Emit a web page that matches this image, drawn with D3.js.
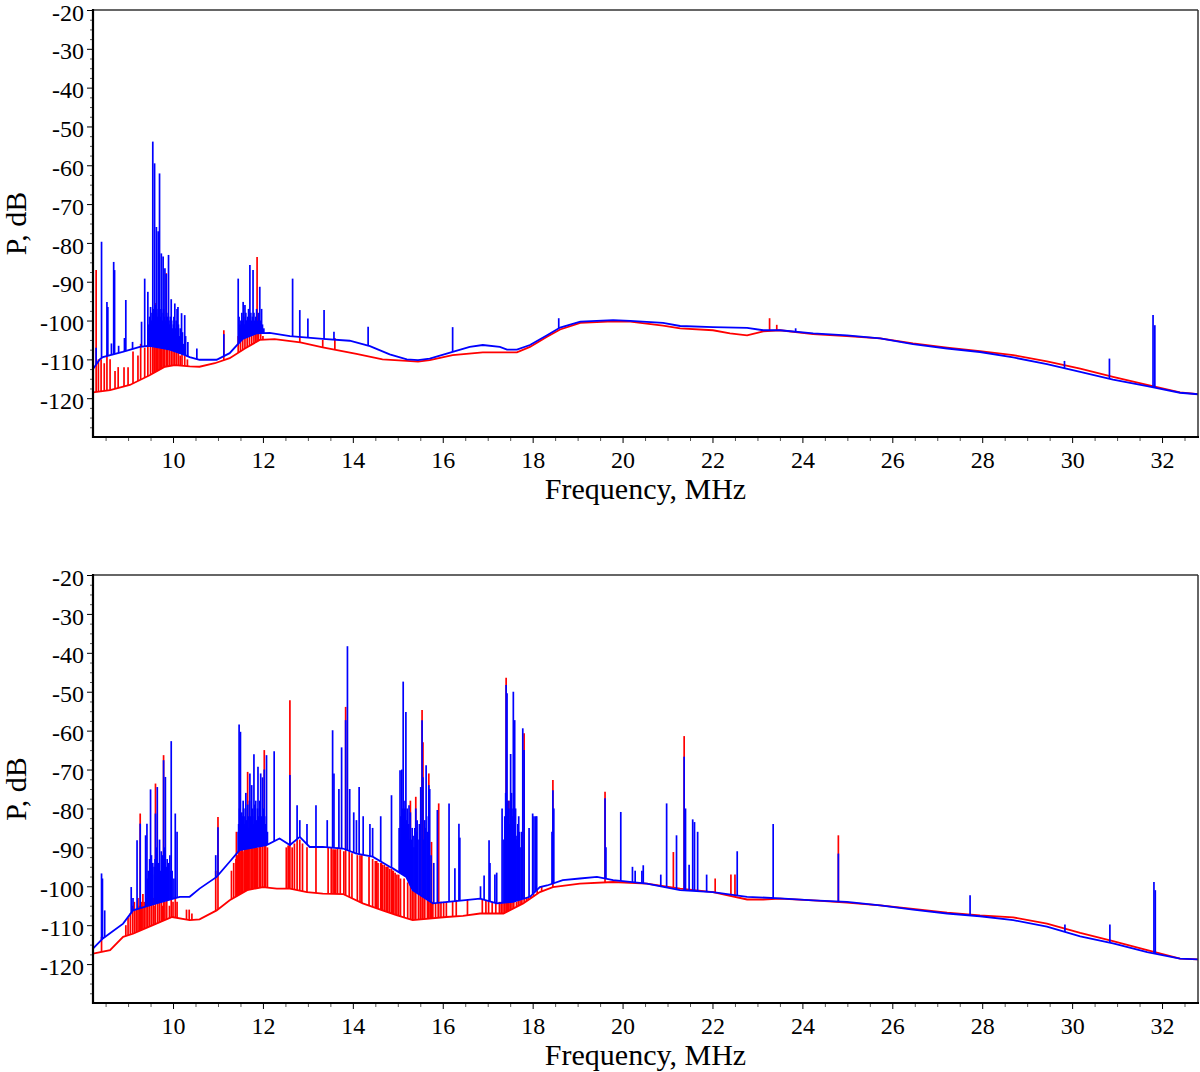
<!DOCTYPE html>
<html>
<head>
<meta charset="utf-8">
<script src="https://d3js.org/d3.v7.min.js"></script>
<style>
  body { margin: 0; background: #fff; }
  svg { display: block; }
</style>
</head>
<body>
<script>
"use strict";

/* ---------- data: [frequency MHz, power dB] ---------- */

// upper chart
var topBlueBase = [[8.22,-112.5],[8.37,-110.0],[8.44,-109.4],[8.88,-108.1],[9.26,-106.8],[9.48,-106.5],[9.7,-107],[9.93,-107.5],[10.2,-108.6],[10.37,-109.4],[10.59,-110.1],[10.97,-110.1],[11.26,-108.4],[11.55,-104.7],[11.86,-103.3],[12.15,-103.2],[12.6,-104.0],[13.33,-104.7],[13.93,-105.2],[14.38,-106.6],[14.82,-108.7],[15.2,-110.0],[15.45,-110.2],[15.71,-109.8],[16.22,-108.1],[16.6,-106.8],[16.89,-106.3],[17.27,-106.8],[17.43,-107.5],[17.65,-107.5],[17.94,-106.3],[18.32,-103.8],[18.61,-101.8],[19.06,-100.3],[19.79,-99.9],[20.17,-100.1],[20.9,-100.6],[21.28,-101.4],[22.01,-101.7],[22.77,-101.9],[23.13,-102.5],[23.5,-102.5],[24.24,-103.3],[24.99,-103.8],[25.73,-104.6],[26.46,-106.1],[27.22,-107.2],[27.95,-108.1],[28.69,-109.5],[29.44,-111.2],[30.18,-113.2],[30.91,-115.2],[31.67,-116.9],[32.4,-118.6],[32.82,-119.0]];

var topRedBase = [[8.22,-118.5],[8.6,-117.9],[9.04,-116.6],[9.48,-114.1],[9.82,-111.9],[10.04,-111.5],[10.37,-111.8],[10.59,-111.9],[10.93,-111.0],[11.26,-109.7],[11.6,-107.2],[11.93,-105.0],[12.26,-104.8],[12.83,-105.6],[13.33,-106.9],[14.08,-108.6],[14.66,-110.0],[15.2,-110.4],[15.45,-110.6],[15.71,-110.2],[16.22,-108.9],[16.89,-108.2],[17.65,-108.2],[17.94,-106.8],[18.32,-104.2],[18.61,-102.3],[19.06,-100.6],[19.79,-100.2],[20.17,-100.3],[20.9,-101.3],[21.28,-102.0],[22.01,-102.5],[22.39,-103.3],[22.77,-103.8],[23.13,-102.8],[23.5,-102.5],[24.24,-103.5],[24.99,-104.0],[25.73,-104.6],[26.46,-105.9],[27.22,-107.0],[27.95,-107.9],[28.69,-108.9],[29.44,-110.5],[30.18,-112.4],[30.91,-114.5],[31.67,-116.6],[32.4,-118.5],[32.82,-119.0]];

var topBlueSpikes = [[8.29,-107],[8.41,-79.7],[8.53,-95.2],[8.55,-96.5],[8.63,-105.9],[8.68,-84.9],[8.70,-87],[8.79,-106.5],[8.92,-104.5],[8.95,-94.7],[9.10,-105.5],[9.30,-100.3],[9.37,-89.2],[9.44,-92.6],[9.50,-96.5],[9.55,-53.9],[9.59,-59.5],[9.63,-75.9],[9.67,-77.0],[9.70,-62.1],[9.74,-82.7],[9.78,-83.5],[9.82,-86.5],[9.85,-88.0],[9.90,-83.1],[9.96,-94.5],[10.04,-95.6],[10.09,-97],[10.11,-96.5],[10.19,-98.1],[10.26,-98.6],[10.33,-105.5],[10.53,-107.2],[11.13,-103.5],[11.45,-89.2],[11.56,-95.2],[11.60,-96],[11.71,-85.7],[11.78,-87],[11.86,-97],[11.93,-91.3],[11.97,-97],[12.66,-89.2],[12.82,-97.3],[13.0,-99.5],[13.36,-97.3],[13.58,-102.9],[14.34,-101.6],[16.22,-101.7],[18.58,-99.4],[23.85,-102.0],[29.83,-110.4],[30.83,-109.8],[31.8,-98.6],[31.84,-101.2]];

var topBlueFuzz = [[9.46,-101],[9.47,-103],[9.48,-99],[9.49,-103],[9.50,-100],[9.51,-98],[9.52,-101],[9.53,-100],[9.54,-102],[9.56,-97],[9.57,-99],[9.58,-101],[9.60,-98],[9.61,-96],[9.62,-100],[9.64,-97],[9.65,-99],[9.66,-102],[9.68,-98],[9.69,-100],[9.71,-97],[9.72,-101],[9.73,-99],[9.75,-98],[9.76,-102],[9.77,-100],[9.79,-97],[9.80,-101],[9.81,-99],[9.83,-100],[9.84,-103],[9.86,-98],[9.87,-101],[9.88,-99],[9.89,-102],[9.91,-100],[9.92,-102],[9.93,-101],[9.94,-99],[9.95,-101],[9.97,-100],[9.98,-102],[9.99,-103],[10.01,-101],[10.02,-99],[10.03,-103],[10.05,-102],[10.06,-104],[10.07,-100],[10.08,-103],[10.10,-102],[10.12,-101],[10.13,-105],[10.14,-104],[10.16,-102],[10.18,-105],[10.21,-103],[10.23,-106],[10.28,-104],
  [11.47,-99],[11.48,-102],[11.49,-101],[11.51,-100],[11.52,-102],[11.53,-98],[11.55,-100],[11.57,-99],[11.58,-101],[11.59,-101],[11.62,-98],[11.63,-100],[11.64,-100],[11.66,-99],[11.67,-101],[11.68,-97],[11.70,-100],[11.72,-99],[11.73,-98],[11.75,-100],[11.77,-99],[11.79,-101],[11.80,-98],[11.82,-100],[11.84,-99],[11.85,-101],[11.88,-100],[11.90,-98],[11.92,-100],[11.95,-100],[11.99,-101],[12.02,-102]];

var topRedSpikes = [[8.29,-87.0],[8.34,-110],[8.40,-110],[8.47,-111],[8.53,-109],[8.60,-110],[8.71,-113],[8.78,-112],[8.91,-112],[9.00,-112],[9.11,-108],[9.22,-109],[9.28,-106],[9.37,-107],[9.44,-103],[9.50,-104],[9.55,-101],[9.58,-104],[9.60,-95.5],[9.63,-100],[9.66,-103],[9.69,-99],[9.72,-104],[9.75,-102],[9.78,-105],[9.81,-101],[9.85,-87.8],[9.88,-104],[9.92,-106],[9.96,-103],[10.00,-107],[10.04,-105],[10.08,-108],[10.12,-106],[10.16,-109],[10.20,-107],[10.26,-109],[10.32,-110],[11.13,-102.5],[11.45,-104],[11.50,-103],[11.55,-104],[11.60,-103],[11.65,-102.8],[11.70,-103.5],[11.75,-102.5],[11.80,-103],[11.84,-102.5],[11.87,-83.6],[11.90,-103],[11.95,-103.5],[12.00,-104],[12.82,-104],[13.33,-105],[13.6,-104.5],[23.27,-99.4],[23.43,-101.1]];

// lower chart
var botBlueBase = [[8.22,-116.0],[8.44,-113.4],[8.89,-109.6],[9.11,-106.2],[9.63,-104.4],[10.15,-102.7],[10.37,-102.7],[10.59,-100.6],[10.97,-97.6],[11.26,-93.7],[11.48,-90.7],[12.08,-89.4],[12.37,-87.7],[12.6,-89.4],[12.82,-87.3],[13.04,-89.9],[13.33,-89.9],[13.78,-90.3],[14.08,-91.6],[14.44,-92.4],[14.82,-95],[14.89,-95.4],[15.19,-97.6],[15.33,-101],[15.78,-104.4],[16.45,-103.6],[16.83,-103.2],[17.2,-104.4],[17.56,-104],[17.94,-102.7],[18.16,-100.2],[18.32,-99.8],[18.67,-98.4],[19.05,-98],[19.43,-97.6],[19.79,-98.4],[20.54,-99.3],[21.28,-101],[22.01,-101.5],[22.77,-102.7],[23.5,-103.1],[24.24,-103.6],[24.99,-104.0],[25.73,-104.9],[26.46,-106],[27.22,-107],[27.95,-107.7],[28.69,-108.7],[29.44,-110.4],[30.18,-112.9],[30.91,-114.7],[31.67,-116.9],[32.4,-118.6],[32.82,-118.8]];

var botRedBase = [[8.22,-117.3],[8.6,-116.4],[8.89,-113],[9.11,-112.2],[9.63,-109.6],[9.98,-107.9],[10.37,-108.7],[10.59,-108.5],[10.97,-106.2],[11.26,-103.6],[11.65,-101.0],[12.0,-100.2],[12.31,-100.6],[12.6,-100.6],[12.98,-101.5],[13.33,-101.9],[13.78,-102],[14.22,-104.4],[14.66,-106.2],[14.97,-107.4],[15.33,-108.7],[16.08,-107.9],[16.45,-107.6],[16.83,-107.0],[17.35,-107.0],[17.79,-104.4],[18.16,-101.5],[18.45,-100.2],[19.05,-99.3],[19.79,-98.9],[20.54,-99.3],[21.28,-100.6],[22.01,-101.5],[22.77,-103.4],[23.13,-103.4],[23.5,-103.2],[24.24,-103.6],[24.99,-104.2],[25.73,-104.9],[26.46,-105.8],[27.22,-106.8],[27.95,-107.5],[28.69,-108.0],[29.44,-109.6],[30.18,-112.0],[30.91,-114.1],[31.67,-116.4],[32.4,-118.6],[32.82,-118.8]];

var botBlueSpikes = [[8.41,-96.7],[8.43,-98],[8.48,-106.2],[9.07,-100.2],[9.11,-103],[9.20,-88.2],[9.27,-83.9],[9.39,-86.9],[9.42,-83.9],[9.47,-99],[9.50,-75.1],[9.55,-94],[9.61,-81.3],[9.65,-74.5],[9.70,-88],[9.74,-91],[9.79,-67.6],[9.83,-71.9],[9.87,-93],[9.90,-94],[9.96,-62.7],[10.05,-81.3],[10.09,-86],[10.95,-92],[11.00,-84.8],[11.47,-58.4],[11.50,-60.3],[11.57,-80],[11.62,-76],[11.71,-71.0],[11.75,-74],[11.80,-66.1],[11.84,-78],[11.89,-69.3],[11.95,-71],[11.99,-72],[12.03,-70],[12.08,-66.3],[12.25,-65.3],[12.60,-71.4],[12.76,-79.2],[12.82,-83],[12.98,-84],[13.18,-79.2],[13.43,-83],[13.55,-59.9],[13.58,-71],[13.69,-75],[13.75,-64.3],[13.84,-57.3],[13.88,-38.3],[13.93,-75],[14.02,-81],[14.08,-83],[14.14,-74.5],[14.23,-82],[14.38,-84],[14.44,-85],[14.62,-82],[14.86,-76.6],[15.05,-70.2],[15.09,-70],[15.12,-47.4],[15.18,-55.2],[15.25,-79.2],[15.28,-81],[15.34,-87],[15.40,-80],[15.43,-83],[15.51,-74.5],[15.54,-57.3],[15.56,-72],[15.60,-83],[15.63,-68.9],[15.69,-74],[15.71,-75],[15.88,-80.4],[16.14,-78.7],[16.27,-95.4],[16.36,-83.9],[16.38,-87.5],[16.84,-100],[16.92,-97.2],[17.03,-88.2],[17.05,-94],[17.16,-97],[17.20,-96.5],[17.32,-80.0],[17.36,-88],[17.41,-48.3],[17.43,-50.4],[17.51,-66],[17.57,-50.0],[17.60,-57.3],[17.63,-87],[17.69,-82],[17.78,-59.4],[17.81,-65],[17.92,-85],[18.00,-81.3],[18.03,-82],[18.07,-82],[18.09,-82],[18.43,-86],[18.45,-75.3],[18.47,-80],[19.61,-77.4],[19.63,-90],[19.96,-80.9],[20.22,-95],[20.28,-96],[20.43,-96],[20.46,-94.6],[20.85,-97],[20.98,-78.7],[21.20,-86.9],[21.37,-66.7],[21.40,-80],[21.48,-94.5],[21.56,-82.8],[21.60,-83.5],[21.67,-86.0],[21.87,-97],[22.55,-91.0],[23.35,-84.0],[24.80,-91.6],[27.73,-102.3],[29.84,-109.8],[30.84,-109.8],[31.82,-98.9],[31.85,-101]];

var botBlueFuzz = [[9.43,-98],[9.45,-96],[9.48,-93],[9.52,-92],[9.54,-97],[9.58,-95],[9.60,-93],[9.63,-90],[9.66,-96],[9.68,-94],[9.72,-96],[9.75,-93],[9.77,-92],[9.81,-90],[9.85,-95],[9.88,-97],[9.93,-92],[9.95,-96],[9.98,-96],[10.02,-98],
  [11.45,-86],[11.46,-84],[11.48,-80],[11.49,-83],[11.52,-86],[11.53,-81],[11.54,-82],[11.56,-78],[11.58,-82],[11.59,-84],[11.61,-80],[11.63,-85],[11.64,-83],[11.66,-79],[11.67,-82],[11.68,-85],[11.70,-78],[11.72,-83],[11.73,-82],[11.76,-86],[11.77,-80],[11.79,-84],[11.81,-82],[11.82,-79],[11.85,-85],[11.86,-83],[11.88,-80],[11.90,-82],[11.91,-84],[11.93,-78],[11.96,-83],[11.97,-82],[12.00,-84],[12.01,-80],[12.04,-82],[12.05,-84],[12.07,-85],[12.10,-86],
  [15.03,-85],[15.05,-88],[15.07,-82],[15.10,-80],[15.11,-84],[15.14,-84],[15.15,-80],[15.16,-78],[15.20,-83],[15.21,-80],[15.22,-86],[15.24,-84],[15.27,-88],[15.30,-88],[15.32,-85],[15.36,-90],[15.38,-85],[15.42,-86],[15.45,-88],[15.48,-84],[15.50,-87],[15.58,-88],[15.61,-85],[15.66,-86],[15.68,-82],[15.74,-92],[15.80,-94],
  [17.38,-82],[17.40,-76],[17.42,-80],[17.45,-78],[17.47,-80],[17.49,-84],[17.50,-78],[17.53,-76],[17.54,-80],[17.55,-82],[17.58,-84],[17.62,-80],[17.65,-88],[17.67,-84],[17.70,-86],[17.72,-90],[17.75,-86]];

var botRedSpikes = [[9.27,-81.3],[9.61,-73.6],[9.79,-66.3],[11.00,-82.2],[11.41,-86],[11.66,-70.6],[12.03,-65.0],[12.60,-52.2],[13.84,-53.9],[15.28,-78],[15.40,-77],[15.54,-54.7],[15.56,-63],[15.69,-71],[15.75,-88.6],[15.91,-78.7],[17.41,-46.4],[17.47,-78],[17.81,-60.7],[18.45,-72.7],[19.61,-75.7],[21.13,-91.2],[21.37,-61.4],[22.06,-98],[22.41,-97],[22.50,-97],[24.80,-86.9]];

var botRedComb = [[8.41,-113],[8.95,-110],[9.00,-108],[9.05,-107],[9.10,-105],[9.14,-104],[9.18,-106],[9.22,-103],[9.25,-105],[9.30,-104],[9.33,-102],[9.36,-104],[9.40,-103],[9.44,-105],[9.48,-102],[9.52,-104],[9.56,-103],[9.60,-105],[9.66,-102],[9.70,-104],[9.74,-103],[9.77,-105],[9.82,-104],[9.86,-103],[9.92,-105],[9.96,-103],[10.00,-104],[10.05,-103],[10.09,-104],[10.30,-106],[10.36,-106],[10.42,-107],[10.95,-96],[11.30,-96],[11.35,-94],[11.40,-93],[11.44,-92],[11.46,-91],[11.48,-90.5],[11.51,-91],[11.52,-90],[11.54,-90],[11.58,-91],[11.59,-90],[11.61,-89.5],[11.64,-90],[11.66,-89.5],[11.68,-89.5],[11.71,-90],[11.74,-89],[11.76,-89.5],[11.78,-90],[11.81,-89.5],[11.83,-89],[11.85,-89],[11.88,-90],[11.92,-89],[11.95,-89.5],[11.99,-89],[12.06,-89.5],[12.10,-90],[12.52,-90],[12.56,-89.5],[12.58,-89.5],[12.65,-90],[12.70,-89],[12.76,-88],[12.82,-88],[12.88,-89],[12.98,-90],[13.18,-90],[13.45,-90],[13.52,-90],[13.56,-90.5],[13.59,-90.5],[13.62,-90.5],[13.66,-90],[13.72,-90.5],[13.80,-91],[13.92,-91],[13.98,-91.5],[14.10,-92],[14.16,-92],[14.20,-92],[14.36,-92.5],[14.44,-93],[14.50,-93.5],[14.53,-93.5],[14.56,-94],[14.62,-94],[14.64,-94],[14.66,-94.5],[14.70,-94.5],[14.74,-95],[14.76,-95],[14.78,-95],[14.82,-95.5],[14.86,-95.5],[14.88,-96],[14.90,-96],[14.94,-96.5],[14.98,-97],[15.02,-97],[15.06,-98],[15.14,-98],[15.22,-99],[15.32,-101],[15.36,-101],[15.46,-102],[15.50,-102.5],[15.60,-103],[15.66,-103.5],[15.72,-104],[15.78,-104],[15.84,-104.5],[15.90,-104],[15.96,-104],[16.02,-104],[16.08,-104],[16.22,-104],[16.30,-103.5],[16.55,-103.5],[16.88,-103.5],[16.96,-103.5],[17.02,-103.5],[17.10,-104],[17.18,-104],[17.26,-104],[17.30,-104],[17.34,-104],[17.38,-104],[17.44,-104],[17.50,-104],[17.54,-104],[17.58,-104],[17.64,-104],[17.68,-103.5],[17.72,-103.5],[17.76,-103.5],[17.86,-103],[17.90,-103],[17.96,-102.5],[18.02,-102],[18.10,-101],[18.20,-100]];

// axes
var xTicks = [10, 12, 14, 16, 18, 20, 22, 24, 26, 28, 30, 32];
var yTicks = [-20, -30, -40, -50, -60, -70, -80, -90, -100, -110, -120];
var xDomain = [8.22, 32.8];
var yDomain = [-130, -20];

/* ---------- layout ---------- */
var W = 1200, H = 1072;
var left = 93, right = 1198;
var panels = [
  { top: 10,  bottom: 437,  blueBase: topBlueBase, redBase: topRedBase,
    blue: [topBlueSpikes, topBlueFuzz], red: [topRedSpikes] },
  { top: 575, bottom: 1003, blueBase: botBlueBase, redBase: botRedBase,
    blue: [botBlueSpikes, botBlueFuzz], red: [botRedSpikes, botRedComb] }
];

var BLUE = "#0000ff", RED = "#ff0000";
var FONT = "'Liberation Serif', 'Times New Roman', serif";

var svg = d3.select("body").append("svg")
  .attr("width", W).attr("height", H);

var x = d3.scaleLinear().domain(xDomain).range([left, right]);

// value of a base curve at frequency f, for the foot of a spike
function baseAt(base, f) {
  var i = d3.bisector(function(d) { return d[0]; }).left(base, f);
  if (i <= 0) return base[0][1];
  if (i >= base.length) return base[base.length - 1][1];
  var a = base[i - 1], b = base[i];
  return a[1] + (b[1] - a[1]) * (f - a[0]) / (b[0] - a[0]);
}

panels.forEach(function(p, k) {
  var y = d3.scaleLinear().domain(yDomain).range([p.bottom, p.top]);
  var g = svg.append("g");

  g.append("clipPath").attr("id", "clip" + k)
    .append("rect").attr("x", left).attr("y", p.top)
    .attr("width", right - left).attr("height", p.bottom - p.top);

  var plot = g.append("g").attr("clip-path", "url(#clip" + k + ")");
  var line = d3.line().x(function(d) { return x(d[0]); }).y(function(d) { return y(d[1]); });

  function drawSeries(base, spikeSets, color) {
    var s = plot.append("g");
    spikeSets.forEach(function(set) {
      s.selectAll(null).data(set.filter(function(d) { return d[1] > baseAt(base, d[0]); }))
        .enter().append("line")
        .attr("x1", function(d) { return x(d[0]); })
        .attr("x2", function(d) { return x(d[0]); })
        .attr("y1", function(d) { return y(baseAt(base, d[0])); })
        .attr("y2", function(d) { return y(d[1]); })
        .attr("stroke", color).attr("stroke-width", 1.7);
    });
    s.append("path").datum(base).attr("d", line)
      .attr("fill", "none").attr("stroke", color).attr("stroke-width", 1.8);
  }

  drawSeries(p.redBase, p.red, RED);
  drawSeries(p.blueBase, p.blue, BLUE);

  // minor ticks
  var minorY = d3.range(-127.5, -20, 2.5).filter(function(v) { return v % 10 !== 0; });
  g.append("g").attr("transform", "translate(" + left + ",0)")
    .call(d3.axisLeft(y).tickValues(minorY).tickSize(3).tickFormat(""))
    .call(function(a) { a.select(".domain").remove(); a.selectAll("line").attr("stroke", "#555"); });
  var minorX = d3.range(8.5, 32.8, 0.5).filter(function(v) { return v % 2 !== 0; });
  g.append("g").attr("transform", "translate(0," + p.bottom + ")")
    .call(d3.axisBottom(x).tickValues(minorX).tickSize(4).tickFormat(""))
    .call(function(a) { a.select(".domain").remove(); a.selectAll("line").attr("stroke", "#555"); });

  // major ticks + labels (plain hyphen minus as in the original)
  g.append("g").attr("transform", "translate(" + left + ",0)")
    .call(d3.axisLeft(y).tickValues(yTicks).tickSize(6).tickPadding(3).tickFormat(function(d) { return String(d); }))
    .call(function(a) {
      a.select(".domain").remove();
      a.selectAll("text").attr("font-size", 24).attr("font-family", FONT).attr("fill", "#000").attr("dy", "0.42em");
    });
  g.append("g").attr("transform", "translate(0," + p.bottom + ")")
    .call(d3.axisBottom(x).tickValues(xTicks).tickSize(6).tickPadding(8).tickFormat(function(d) { return String(d); }))
    .call(function(a) {
      a.select(".domain").remove();
      a.selectAll("text").attr("font-size", 24).attr("font-family", FONT).attr("fill", "#000");
    });

  // frame
  g.append("line").attr("x1", left).attr("x2", right).attr("y1", p.top).attr("y2", p.top)
    .attr("stroke", "#333").attr("stroke-width", 1.5);
  g.append("line").attr("x1", right).attr("x2", right).attr("y1", p.top).attr("y2", p.bottom)
    .attr("stroke", "#333").attr("stroke-width", 1.5);
  g.append("line").attr("x1", left).attr("x2", left).attr("y1", p.top - 1).attr("y2", p.bottom + 1)
    .attr("stroke", "#000").attr("stroke-width", 2.2);
  g.append("line").attr("x1", left - 1).attr("x2", right + 1).attr("y1", p.bottom).attr("y2", p.bottom)
    .attr("stroke", "#000").attr("stroke-width", 2.2);

  // titles
  g.append("text").attr("x", (left + right) / 2).attr("y", p.bottom + 62)
    .attr("text-anchor", "middle").attr("font-family", FONT).attr("font-size", 30)
    .text("Frequency, MHz");
  g.append("text")
    .attr("transform", "translate(26," + (p.top + p.bottom) / 2 + ") rotate(-90)")
    .attr("text-anchor", "middle").attr("font-family", FONT).attr("font-size", 30)
    .text("P, dB");
});
</script>
</body>
</html>
